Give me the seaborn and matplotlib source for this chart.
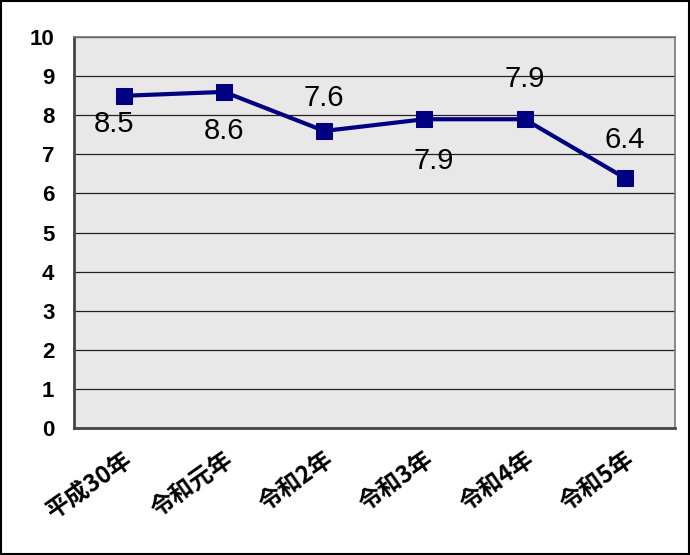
import matplotlib
matplotlib.use("Agg")
import matplotlib.pyplot as plt
import seaborn as sns
import pandas as pd
from matplotlib.ticker import FixedLocator

years = ["平成30年", "令和元年", "令和2年", "令和3年", "令和4年", "令和5年"]
values = [8.5, 8.6, 7.6, 7.9, 7.9, 6.4]
# 数値ラベルのずれ（ポイント、負なら点の下）
label_dx = [-7, 0, 0, 7, 0, 0]
label_dy = [-20, -28, 24, -30, 29, 27]

sns.set_style("white")
plt.rcParams['font.family'] = ['Noto Sans CJK JP', 'DejaVu Sans']
plt.rcParams['text.color'] = 'black'
plt.rcParams['xtick.color'] = 'black'
plt.rcParams['ytick.color'] = 'black'

df = pd.DataFrame({"year": years, "value": values, "x": range(len(years))})

fig = plt.figure(figsize=(6.9, 5.55), dpi=100)
ax = fig.add_axes([0.107, 0.229, 0.871, 0.704])
ax.set_facecolor("#e8e8e8")

sns.lineplot(data=df, x="x", y="value", ax=ax, color="#000080",
             linewidth=3, marker="s", markersize=12, markeredgecolor="#000080")

for xi, v, dx, dy in zip(df["x"], values, label_dx, label_dy):
    ax.annotate(f"{v}", (xi, v), xytext=(dx, dy), textcoords="offset points",
                ha="center", va="center", fontsize=21, color="black",
                family=['Liberation Sans', 'DejaVu Sans'])

ax.set_xlim(-0.5, len(years) - 0.5)
ax.set_ylim(0, 10)
ax.set_yticks(range(0, 11))
ax.set_yticklabels([str(i) for i in range(0, 11)], fontsize=16, fontweight="bold",
                   family=['Liberation Sans', 'DejaVu Sans'])
ax.yaxis.grid(True, color="#222222", linewidth=0.9)
ax.set_axisbelow(True)

ax.set_xticks(range(len(years)))
ax.set_xticklabels(years, rotation=35, ha="right", rotation_mode="anchor",
                   fontsize=17, fontweight="bold")
ax.tick_params(axis="x", length=0, pad=14)
ax.tick_params(axis="y", length=0, pad=14)
ax.xaxis.set_minor_locator(FixedLocator([i + 0.5 for i in range(len(years) - 1)]))
ax.tick_params(axis="x", which="minor", direction="in", length=7, color="#222222", width=1)

ax.set_xlabel("")
ax.set_ylabel("")
for s in ax.spines.values():
    s.set_color("#777777")
    s.set_linewidth(1.2)
ax.spines["left"].set_color("#444444")
ax.spines["bottom"].set_color("#444444")
ax.spines["left"].set_linewidth(2)
ax.spines["bottom"].set_linewidth(2)

fig.patches.append(plt.Rectangle((0.002, 0.002), 0.996, 0.996, transform=fig.transFigure,
                                 fill=False, edgecolor="black", linewidth=1.5))

fig.savefig("out.png", dpi=100)
